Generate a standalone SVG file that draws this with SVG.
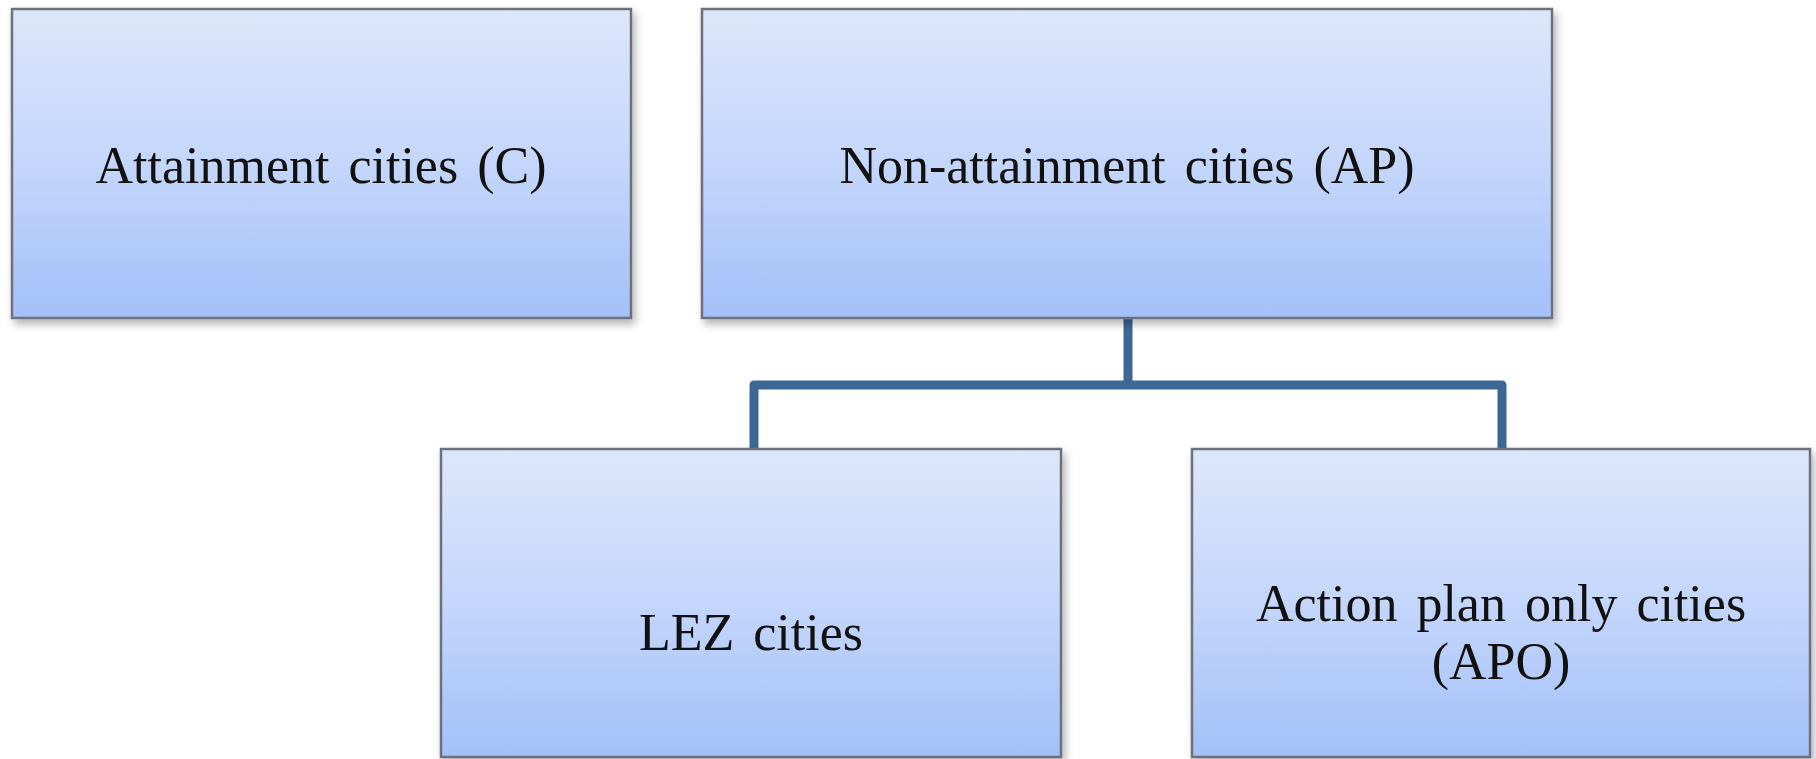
<svg xmlns="http://www.w3.org/2000/svg" width="1816" height="759" viewBox="0 0 1816 759">
<defs>
<linearGradient id="g" x1="0" y1="0" x2="0" y2="1">
<stop offset="0" stop-color="#dde7fb"/>
<stop offset="0.5" stop-color="#c4d6fb"/>
<stop offset="1" stop-color="#a3c0f9"/>
</linearGradient>
<filter id="sh" x="-5%" y="-5%" width="115%" height="120%">
<feDropShadow dx="3" dy="5" stdDeviation="4" flood-color="#000" flood-opacity="0.3"/>
</filter>
</defs>
<style>
.box{fill:url(#g);stroke:#6c717c;stroke-width:2.5;filter:url(#sh)}
.t{font-family:"Liberation Serif","Times New Roman",serif;font-size:52px;fill:#111;text-anchor:middle;word-spacing:6px}
.c{fill:none;stroke:#3d6795;stroke-width:9;stroke-linejoin:round}
</style>
<rect width="1816" height="759" fill="#fff"/>
<g id="connectors">
<path class="c" d="M1128 318 V385 M754 450 V385 H1502 V450"/>
</g>
<g id="n1">
<rect class="box" x="12" y="9" width="619" height="309"/>
<text class="t" x="321" y="183">Attainment cities (C)</text>
</g>
<g id="n2">
<rect class="box" x="702" y="9" width="850" height="309"/>
<text class="t" x="1127" y="183">Non-attainment cities (AP)</text>
</g>
<g id="n3">
<rect class="box" x="441" y="449" width="620" height="308"/>
<text class="t" x="751" y="650">LEZ cities</text>
</g>
<g id="n4">
<rect class="box" x="1192" y="449" width="618" height="308"/>
<text class="t" x="1501" y="621">Action plan only cities</text>
<text class="t" x="1501" y="679">(APO)</text>
</g>
</svg>
